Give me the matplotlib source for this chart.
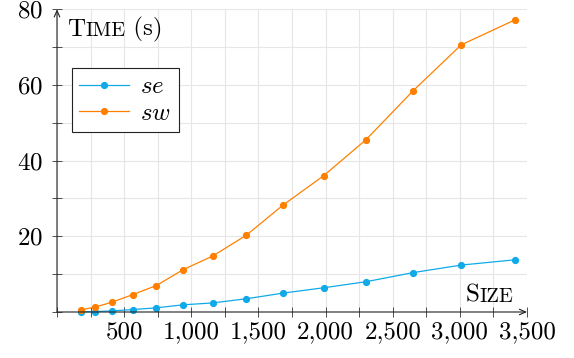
import numpy as np
import matplotlib
matplotlib.use("Agg")
import matplotlib.pyplot as plt
from matplotlib.ticker import MultipleLocator, FixedLocator, FixedFormatter

plt.rcParams["font.family"] = "cmr10"
plt.rcParams["mathtext.fontset"] = "cm"
plt.rcParams["axes.formatter.use_mathtext"] = True

# values
sizes = [180, 285, 410, 565, 740, 940, 1160, 1410, 1685, 1985, 2300, 2650, 3010, 3410]
se_time = [0.05, 0.1, 0.3, 0.65, 1.1, 1.9, 2.4, 3.5, 5.0, 6.4, 8.0, 10.4, 12.4, 13.8]
sw_time = [0.6, 1.3, 2.6, 4.6, 7.0, 11.2, 14.8, 20.3, 28.3, 36.0, 45.5, 58.4, 70.6, 77.2]
xticks = [500, 1000, 1500, 2000, 2500, 3000, 3500]
xticklabels = ["500", "1,000", "1,500", "2,000", "2,500", "3,000", "3,500"]
yticks = [20, 40, 60, 80]

BLUE = "#10aae8"
ORANGE = "#ff8000"
FS = 18

fig = plt.figure(figsize=(5.74, 3.58), dpi=100)
ax = fig.add_axes([57 / 574, 1 - 312 / 358, 470 / 574, 302.7 / 358])

ax.plot(sizes, se_time, "-o", color=BLUE, lw=0.9, ms=4.2, label="$se$", clip_on=False, zorder=3)
ax.plot(sizes, sw_time, "-o", color=ORANGE, lw=0.9, ms=4.2, label="$sw$", clip_on=False, zorder=3)

ax.set_xlim(0, 3500)
ax.set_ylim(0, 80)
ax.xaxis.set_major_locator(FixedLocator(xticks))
ax.xaxis.set_major_formatter(FixedFormatter(xticklabels))
ax.xaxis.set_minor_locator(MultipleLocator(250))
ax.yaxis.set_major_locator(FixedLocator(yticks))
ax.yaxis.set_minor_locator(MultipleLocator(10))
ax.grid(which="both", color="#e6e6e6", lw=0.8)
ax.set_axisbelow(True)
ax.tick_params(which="both", direction="inout", length=7.5, width=0.6, color="#333333",
               labelsize=FS)
ax.tick_params(axis="x", pad=3)
ax.tick_params(axis="y", pad=6)

for s in ax.spines.values():
    s.set_visible(False)
arrow = dict(arrowstyle="->,head_length=0.45,head_width=0.2", color="#222222", lw=0.8,
             shrinkA=0, shrinkB=0)
ax.annotate("", xy=(1, 0), xytext=(0, 0), xycoords="axes fraction", arrowprops=arrow)
ax.annotate("", xy=(0, 1), xytext=(0, 0), xycoords="axes fraction", arrowprops=arrow)

leg = ax.legend(loc="upper left", bbox_to_anchor=(14.7 / 470, 1 - 59 / 302.7), fontsize=FS,
                frameon=True, fancybox=False, framealpha=1, edgecolor="#222222",
                borderpad=0.3, handlelength=2.0, handletextpad=0.45, labelspacing=0.15,
                borderaxespad=0)
leg.get_frame().set_linewidth(0.8)


def small_caps(x, y, parts, renderer):
    # parts: list of (text, fontsize); placed one after another from pixel x
    for txt, size in parts:
        t = fig.text(x / 574, 1 - y / 358, txt, fontsize=size, ha="left", va="baseline")
        x = t.get_window_extent(renderer).x1
    return x


fig.canvas.draw()
r = fig.canvas.get_renderer()
small_caps(67, 35.5, [("T", FS), ("IME", FS * 0.82), (" (s)", FS)], r)
small_caps(466, 302, [("S", FS), ("IZE", FS * 0.82)], r)

fig.savefig("out.png", dpi=100)
